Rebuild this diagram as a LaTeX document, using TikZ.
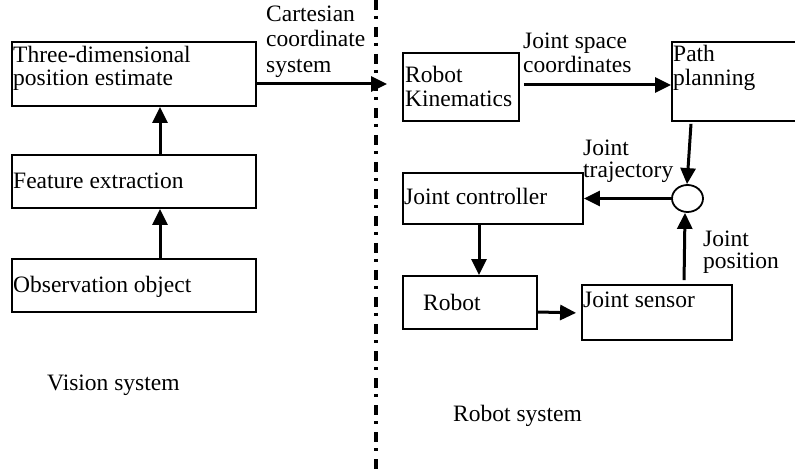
\documentclass[tikz,border=0pt]{standalone}
\usepackage{fontspec}
\setmainfont{Liberation Serif}
\usetikzlibrary{arrows.meta,shapes.geometric,calc}
\begin{document}
\begin{tikzpicture}[x=1pt,y=-1pt,
  box/.style={draw, line width=1.8pt, inner sep=0pt},
  lbl/.style={anchor=base west, inner sep=0pt, font=\fontsize{23.5}{26}\selectfont},
  arr/.style={line width=3pt, -{Triangle[length=16pt,width=15pt]}},
  divider/.style={line width=3.2pt, dash pattern=on 10pt off 6pt on 3pt off 8pt}]
\useasboundingbox (0,0) rectangle (795,470);
% boxes
\node[box, minimum width=244pt, minimum height=64pt] (tde) at (134,74) {};
\node[box, minimum width=244pt, minimum height=53pt] (fe) at (134,181.5) {};
\node[box, minimum width=244pt, minimum height=53pt] (oo) at (134,285.5) {};
\node[box, minimum width=116pt, minimum height=68pt] (rk) at (461,87) {};
\node[box, minimum width=126pt, minimum height=79pt] (pp) at (735,81.5) {};
\node[box, minimum width=180pt, minimum height=51pt] (jc) at (493,198.5) {};
\node[box, minimum width=134pt, minimum height=53pt] (rb) at (470,302.5) {};
\node[box, minimum width=150pt, minimum height=55pt] (js) at (657,312.5) {};
\node[box, ellipse, minimum width=31pt, minimum height=27pt] (sum) at (687.5,198.5) {};
% divider
\coordinate (dtop) at (376,0);
\coordinate (dbot) at (376,470);
\draw[divider] (dtop) -- (dbot);
\coordinate (cart) at (387,84);
\coordinate (rkout) at ([xshift=4pt,yshift=2pt]rk.east);
% connectors
\draw[arr] ([xshift=26pt]oo.north) -- ([xshift=26pt]fe.south);
\draw[arr] ([xshift=26pt]fe.north) -- ([xshift=26pt]tde.south);
\draw[arr] ([yshift=-10pt]tde.east) -- (cart);
\draw[arr] (rkout) -- (pp.west |- rkout);
\draw[arr] ([xshift=-44pt,yshift=-2pt]pp.south) -- ([xshift=-0.5pt]sum.north);
\draw[arr] (sum.west) -- (jc.east);
\draw[arr] ([xshift=-14pt]jc.south) -- ([xshift=9pt]rb.north);
\draw[arr, shorten >=5pt] ([yshift=-9.5pt]rb.east) -- ([yshift=-0.5pt]js.west);
\draw[arr, shorten <=4pt] ([xshift=27pt]js.north) -- ([xshift=-2.5pt]sum.south);
% texts
\node[lbl] (t1) at (266,22) {Cartesian};
\node[lbl] (t2) at (266,47) {coordinate};
\node[lbl] (t3) at (266,73) {system};
\node[lbl] (t4) at (13,63) {Three-dimensional};
\node[lbl] (t5) at (13,86) {position estimate};
\node[lbl] (t6) at (13,189) {Feature extraction};
\node[lbl] (t7) at (13,293) {Observation object};
\node[lbl] (t8) at (523,49) {Joint space};
\node[lbl] (t9) at (523,73) {coordinates};
\node[lbl] (t10) at (405,83) {Robot};
\node[lbl] (t11) at (405,107) {Kinematics};
\node[lbl] (t12) at (673,62) {Path};
\node[lbl] (t13) at (673,86) {planning};
\node[lbl] (t14) at (583,156) {Joint};
\node[lbl] (t15) at (583,178) {trajectory};
\node[lbl] (t16) at (404,205) {Joint controller};
\node[lbl] (t17) at (423,310) {Robot};
\node[lbl] (t18) at (583,308) {Joint sensor};
\node[lbl] (t19) at (703,247) {Joint};
\node[lbl] (t20) at (703,269) {position};
\node[lbl] (t21) at (47,390) {Vision system};
\node[lbl] (t22) at (453,421) {Robot system};
\end{tikzpicture}
\end{document}
